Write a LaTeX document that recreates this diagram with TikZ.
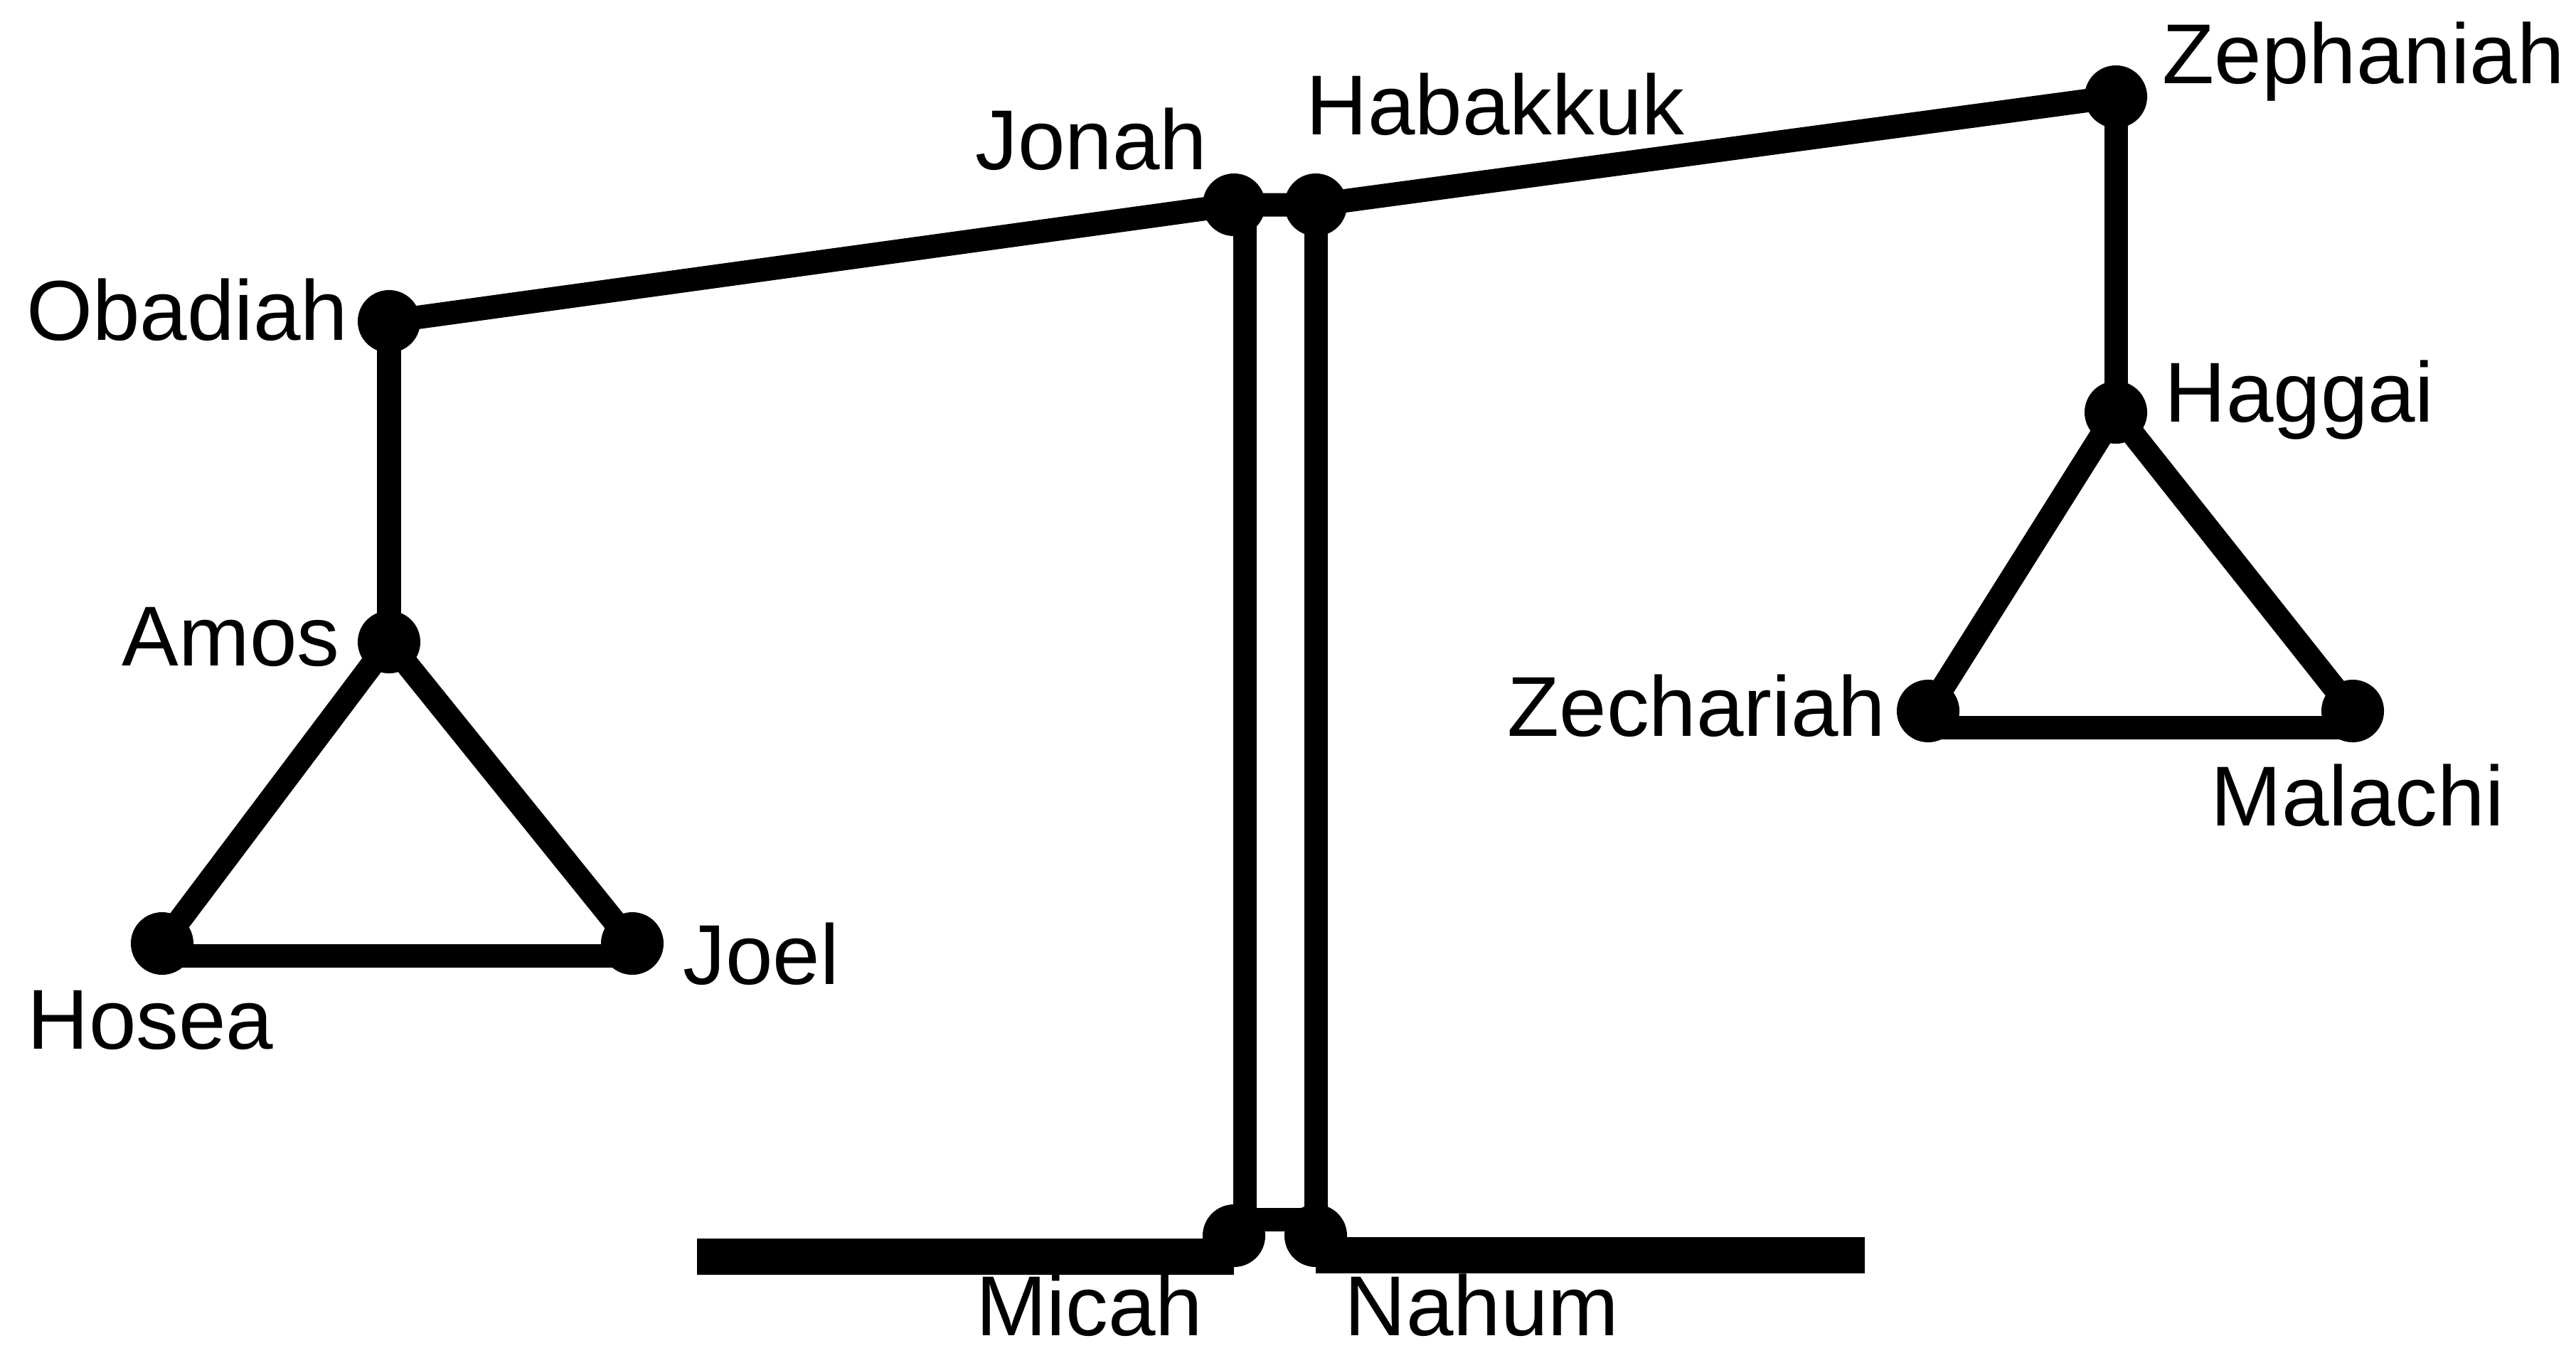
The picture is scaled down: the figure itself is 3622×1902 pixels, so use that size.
\documentclass[tikz,border=0pt]{standalone}
\usepackage{fontspec}
\setmainfont{Liberation Sans}
\begin{document}
\begin{tikzpicture}[x=0.01cm, y=-0.01cm,
    dot/.style={circle, fill=black, inner sep=0pt, minimum size=0.88cm},
    beam/.style={line width=0.33cm},
    basebar/.style={line width=0.51cm},
    lbl/.style={inner sep=0pt, font=\fontsize{34}{40}\selectfont}]
    \useasboundingbox (0,0) rectangle (3622,1902);

    % joints
    \node[dot] (obadiah) at (547,452) {};
    \node[dot] (amos) at (547,903) {};
    \node[dot] (hosea) at (228,1327) {};
    \node[dot] (joel) at (889,1327) {};
    \node[dot] (jonah) at (1735,288) {};
    \node[dot] (habakkuk) at (1850,288) {};
    \node[dot] (micah) at (1735,1738) {};
    \node[dot] (nahum) at (1850,1738) {};
    \node[dot] (zephaniah) at (2975,136) {};
    \node[dot] (haggai) at (2975,580) {};
    \node[dot] (zechariah) at (2711,1000) {};
    \node[dot] (malachi) at (3308,1000) {};
    \coordinate (baseL) at (980,1767);
    \coordinate (baseR) at (2622,1765);

    % names
    \node[lbl, anchor=base east] (obadiahlbl) at (490,478) {Obadiah};
    \node[lbl, anchor=base east] (amoslbl) at (478,936) {Amos};
    \node[lbl, anchor=base west] (hosealbl) at (38,1475) {Hosea};
    \node[lbl, anchor=base west] (joellbl) at (960,1384) {Joel};
    \node[lbl, anchor=base east] (jonahlbl) at (1698,238) {Jonah};
    \node[lbl, anchor=base west] (habakkuklbl) at (1836,189) {Habakkuk};
    \node[lbl, anchor=base east] (micahlbl) at (1692,1878) {Micah};
    \node[lbl, anchor=base west] (nahumlbl) at (1890,1878) {Nahum};
    \node[lbl, anchor=base west] (zephaniahlbl) at (3040,117) {Zephaniah};
    \node[lbl, anchor=base west] (haggailbl) at (3043,593) {Haggai};
    \node[lbl, anchor=base east] (zechariahlbl) at (2652,1035) {Zechariah};
    \node[lbl, anchor=base west] (malachilbl) at (3108,1161) {Malachi};

    % beam and posts
    \draw[beam] (obadiah.center) -- (jonah.center) -- (habakkuk.center) -- (zephaniah.center);
    \draw[beam] ([xshift=0.15cm]jonah.center) -- ([xshift=0.15cm, yshift=0.23cm]micah.center)
        -- ([yshift=0.23cm]nahum.center) -- (habakkuk.center);
    \draw[basebar] (baseL) -- (baseL -| micah.center);
    \draw[basebar] (baseR -| nahum.center) -- (baseR);

    % left pan
    \draw[beam] (obadiah.center) -- (amos.center);
    \draw[beam] (amos.center) -- (hosea.center);
    \draw[beam] (amos.center) -- (joel.center);
    \draw[beam] ([yshift=-0.17cm]hosea.center) -- ([yshift=-0.17cm]joel.center);

    % right pan
    \draw[beam] (zephaniah.center) -- (haggai.center);
    \draw[beam] (haggai.center) -- (zechariah.center);
    \draw[beam] (haggai.center) -- (malachi.center);
    \draw[beam] ([yshift=-0.23cm]zechariah.center) -- ([yshift=-0.23cm]malachi.center);
\end{tikzpicture}
\end{document}
